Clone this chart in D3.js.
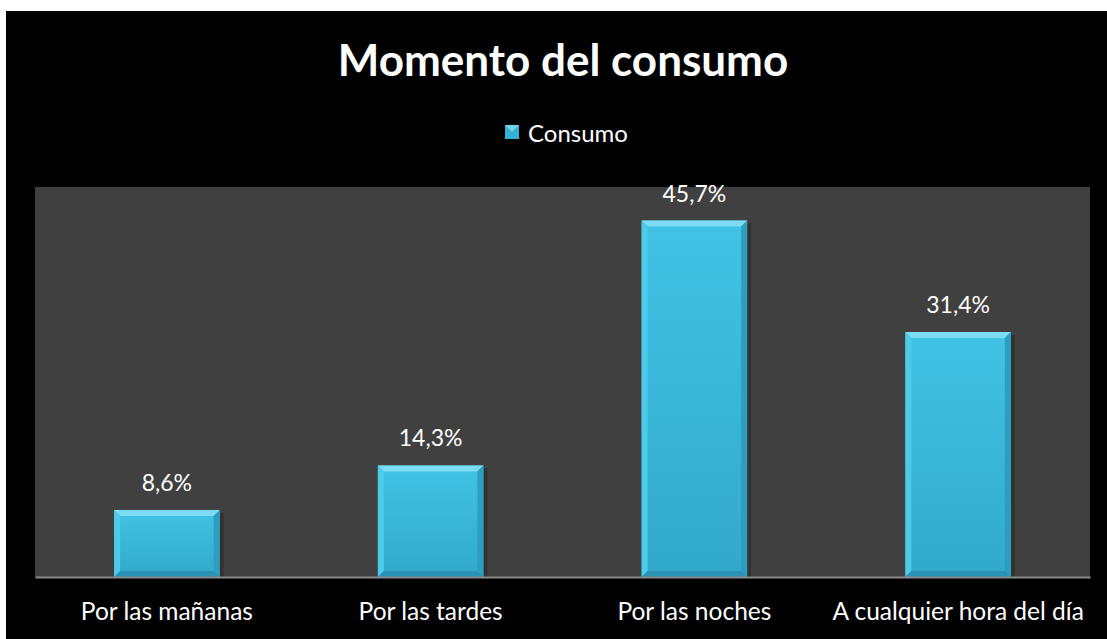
<!DOCTYPE html>
<html>
<head>
<meta charset="utf-8">
<script src="https://cdn.jsdelivr.net/npm/d3@7"></script>
<style>
  html, body { margin: 0; padding: 0; background: #ffffff; }
  svg { display: block; }
</style>
</head>
<body>
<svg id="chart" width="1107" height="639"></svg>
<script>
// Chart data
const categories = ["Por las mañanas", "Por las tardes", "Por las noches", "A cualquier hora del día"];
const values = [8.6, 14.3, 45.7, 31.4];
const valueLabels = ["8,6%", "14,3%", "45,7%", "31,4%"];
const seriesName = "Consumo";
const chartTitle = "Momento del consumo";

const svg = d3.select("#chart");
const W = 1107, H = 639;
const font = "Lato, 'Open Sans', sans-serif";

// Outer black chart frame
svg.append("rect").attr("x", 6).attr("y", 11).attr("width", W - 6).attr("height", H - 11).attr("fill", "#000");

// Plot area
const plot = { left: 35, right: 1090, top: 187, bottom: 577 };
svg.append("rect")
  .attr("x", plot.left).attr("y", plot.top)
  .attr("width", plot.right - plot.left).attr("height", plot.bottom - plot.top)
  .attr("fill", "#404040");

const x = d3.scaleBand().domain(categories).range([plot.left, plot.right]).paddingInner(0.6).paddingOuter(0.3);
const y = d3.scaleLinear().domain([0, 50]).range([plot.bottom, plot.top]);

// Gradients
const defs = svg.append("defs");
const g1 = defs.append("linearGradient").attr("id", "barFill").attr("x1", 0).attr("y1", 0).attr("x2", 0).attr("y2", 1);
g1.append("stop").attr("offset", "0%").attr("stop-color", "#41c3e5");
g1.append("stop").attr("offset", "100%").attr("stop-color", "#32a9ca");

const bev = 6;
const bars = svg.append("g").selectAll("g.bar").data(categories).join("g").attr("class", "bar");

bars.each(function(c, i) {
  const g = d3.select(this);
  const x0 = x(c), w = x.bandwidth();
  const yt = y(values[i]), yb = y(0);
  const x1 = x0 + w;
  // soft shadow on right side
  g.append("rect").attr("x", x1).attr("y", yt + 3).attr("width", 4).attr("height", yb - yt - 3)
    .attr("fill", "#2a2a2a").attr("opacity", 0.6);
  g.append("rect").attr("x", x0).attr("y", yt).attr("width", w).attr("height", yb - yt).attr("fill", "url(#barFill)");
  // bevel faces
  const b = Math.min(bev, (yb - yt) / 2);
  g.append("polygon").attr("points", [[x0, yt], [x1, yt], [x1 - b, yt + b], [x0 + b, yt + b]].join(" "))
    .attr("fill", "#7ddcf3");
  g.append("polygon").attr("points", [[x0, yt], [x0 + b, yt + b], [x0 + b, yb - b], [x0, yb]].join(" "))
    .attr("fill", "#4ccbea");
  g.append("polygon").attr("points", [[x1, yt], [x1, yb], [x1 - b, yb - b], [x1 - b, yt + b]].join(" "))
    .attr("fill", "#2d9ebf");
  g.append("polygon").attr("points", [[x0, yb], [x1, yb], [x1 - b, yb - b], [x0 + b, yb - b]].join(" "))
    .attr("fill", "#2a93b3");
});

// Value labels
svg.append("g").selectAll("text").data(categories).join("text")
  .attr("x", c => x(c) + x.bandwidth() / 2)
  .attr("y", (c, i) => y(values[i]) - 19)
  .attr("text-anchor", "middle")
  .attr("font-family", font).attr("font-size", 23).attr("fill", "#ffffff")
  .text((c, i) => valueLabels[i]);

// Category axis
const axis = svg.append("g").attr("transform", `translate(0,${plot.bottom})`)
  .call(d3.axisBottom(x).tickSize(0));
axis.select(".domain").attr("stroke", "#8a8a8a").attr("stroke-width", 2);
axis.selectAll("text").attr("y", 43).attr("dy", null)
  .attr("font-family", font).attr("font-size", 24.5).attr("fill", "#ffffff");

// Title
svg.append("text").attr("x", 563).attr("y", 76).attr("text-anchor", "middle")
  .attr("font-family", font).attr("font-weight", "bold").attr("font-size", 44).attr("fill", "#ffffff")
  .text(chartTitle);

// Legend
const lg = svg.append("g").attr("transform", "translate(505,125)");
lg.append("rect").attr("width", 14).attr("height", 14).attr("fill", "#35b2d3");
lg.append("polygon").attr("points", "0,0 14,0 7,7").attr("fill", "#6fd6ef");
lg.append("text").attr("x", 23).attr("y", 17).attr("font-family", font).attr("font-size", 24).attr("fill", "#ffffff").text(seriesName);
</script>
</body>
</html>
